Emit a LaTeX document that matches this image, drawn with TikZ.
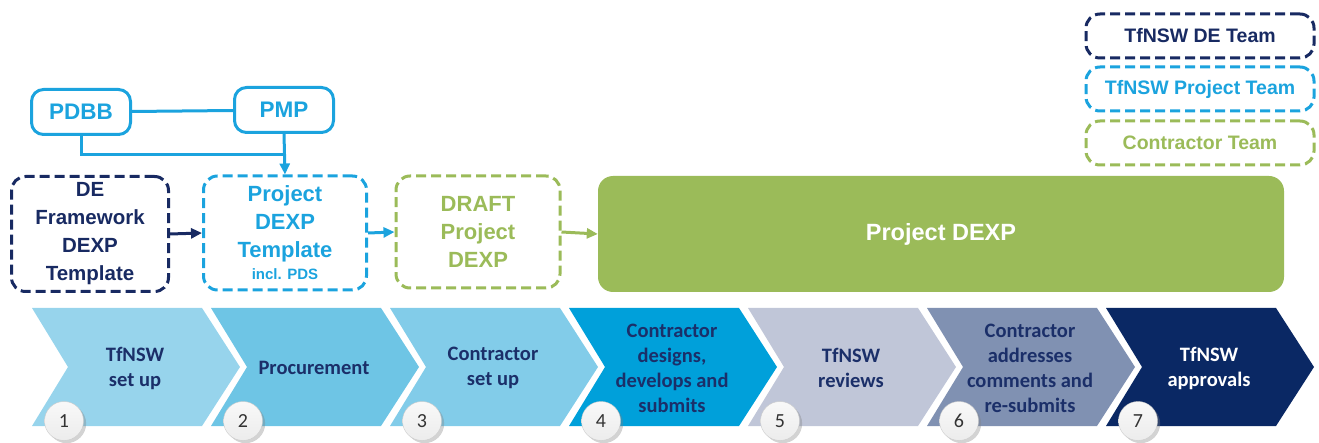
\documentclass[tikz,border=0pt]{standalone}
\usepackage{fontspec}
\setmainfont{Liberation Sans}
\newfontfamily\chevfont{Carlito}
\usetikzlibrary{arrows.meta,shadows}

\definecolor{deblue}{RGB}{24,42,98}
\definecolor{ptblue}{RGB}{27,163,222}
\definecolor{ctgreen}{RGB}{155,187,89}
\definecolor{chevA}{RGB}{151,212,236}
\definecolor{chevB}{RGB}{110,197,229}
\definecolor{chevC}{RGB}{130,204,233}
\definecolor{chevD}{RGB}{0,160,218}
\definecolor{chevE}{RGB}{192,198,216}
\definecolor{chevF}{RGB}{128,145,178}
\definecolor{chevG}{RGB}{10,40,100}
\definecolor{chevtext}{RGB}{27,47,105}

\tikzset{
  teambox/.style={draw, rounded corners=14pt, line width=3pt, dash pattern=on 10pt off 5pt,
    align=center, inner sep=0pt, font=\bfseries\fontsize{22}{28}\selectfont},
  srcbox/.style={draw=ptblue, rounded corners=12pt, line width=3pt, minimum width=99pt,
    minimum height=45pt, text=ptblue, font=\bfseries\fontsize{22.5}{26}\selectfont},
  keybox/.style={teambox, minimum width=228pt, minimum height=44pt,
    font=\bfseries\fontsize{19.5}{22}\selectfont},
  flow/.style={line width=3pt, -{Triangle[length=11pt,width=10pt]}},
  steptext/.style={align=center, font=\chevfont\bfseries\fontsize{20.5}{25}\selectfont},
  stepno/.style={circle, draw=gray!40, top color=gray!5, bottom color=gray!15,
    drop shadow={opacity=0.35}, minimum size=39pt, inner sep=0pt,
    font=\chevfont\fontsize{20}{20}\selectfont, text=black!80}
}

\begin{document}
\begin{tikzpicture}[x=1pt, y=-1pt]
\useasboundingbox (0,0) rectangle (1319,443);

\node[keybox, draw=deblue, text=deblue] (kde) at (1200,36) {TfNSW DE Team};
\node[keybox, draw=ptblue, text=ptblue] (kpt) at (1200,89) {TfNSW Project Team};
\node[keybox, draw=ctgreen, text=ctgreen] (kct) at (1200,143) {Contractor Team};

\node[srcbox] (pdbb) at (81,112) {PDBB};
\node[srcbox] (pmp) at (284,110) {PMP};

\node[teambox, draw=deblue, text=deblue, minimum width=157pt, minimum height=115pt,
  font=\bfseries\fontsize{20.5}{28}\selectfont] (defw) at (90,234)
  {DE\\Framework\\DEXP\\Template};
\node[teambox, draw=ptblue, text=ptblue, minimum width=163pt, minimum height=114pt] (ptpl) at (285,233)
  {Project\\DEXP\\Template\\[-6pt]{\fontsize{15}{16}\selectfont incl. PDS}};
\node[teambox, draw=ctgreen, text=ctgreen, minimum width=164pt, minimum height=112pt] (draft) at (478,232)
  {DRAFT\\Project\\DEXP};
\node[fill=ctgreen, rounded corners=15pt, minimum width=686pt, minimum height=116pt, text=white,
  font=\bfseries\fontsize{23.5}{26}\selectfont] (pdexp) at (941,234) {Project DEXP};

\coordinate (join) at (284,155);
\draw[ptblue, line width=3pt] (pdbb) -- (pmp);
\draw[ptblue, line width=3pt] (pdbb.south) |- (join);
\draw[ptblue, flow] (pmp.south) -- (ptpl.north);
\draw[deblue, flow] (defw.east) -- (ptpl.west);
\draw[ptblue, flow] (ptpl.east) -- (draft.west);
\draw[ctgreen, flow] (draft.east) -- (pdexp.west);

\foreach \i/\fc/\tc/\txt in {1/chevA/chevtext/{TfNSW\\set up}, 2/chevB/chevtext/{Procurement},
    3/chevC/chevtext/{Contractor\\set up}, 4/chevD/chevtext/{Contractor\\designs,\\develops and\\submits},
    5/chevE/chevtext/{TfNSW\\reviews}, 6/chevF/chevtext/{Contractor\\addresses\\comments and\\re-submits},
    7/chevG/white/{TfNSW\\approvals}} {
  \pgfmathsetmacro\xo{32+179*(\i-1)}
  \fill[\fc] (\xo,308) -- ++(170,0) -- ++(38,59) -- ++(-38,59) -- ++(-170,0) -- ++(36,-59) -- cycle;
  \node[steptext, text=\tc] (c\i) at (\xo+103,368) {\txt};
  \node[stepno] (n\i) at (\xo+32,421) {\i};
}
\end{tikzpicture}
\end{document}
